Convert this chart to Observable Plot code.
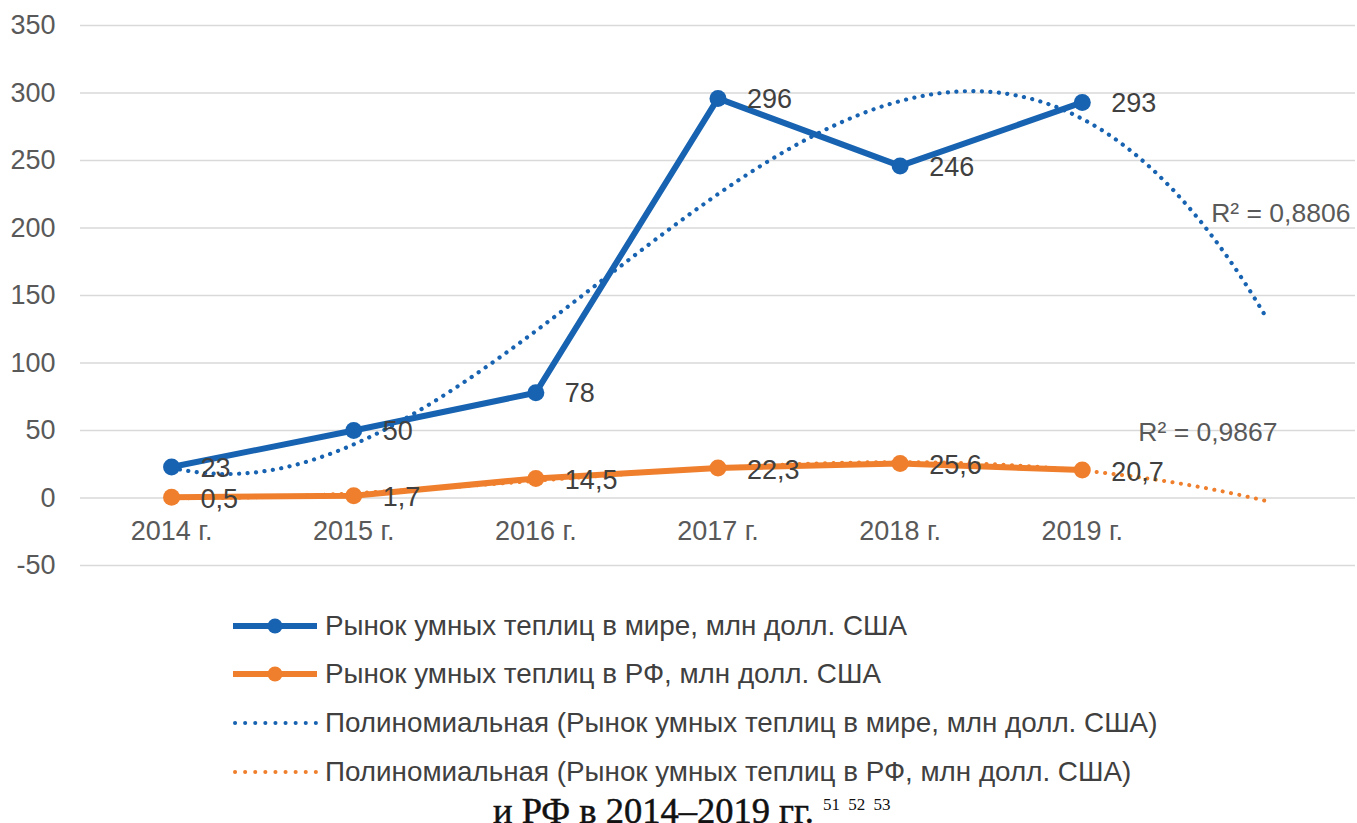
<!DOCTYPE html>
<html>
<head>
<meta charset="utf-8">
<script src="https://cdn.jsdelivr.net/npm/d3@7"></script>
<script src="https://cdn.jsdelivr.net/npm/@observablehq/plot@0.6"></script>
<style>
  html, body { margin: 0; padding: 0; background: #fff; overflow: hidden; }
  #wrap { position: relative; width: 1357px; height: 823px; overflow: hidden; font-family: "Liberation Sans", Arial, sans-serif; }
  #chart { position: absolute; left: 0; top: 0; }
  .leg { position: absolute; left: 232px; height: 34px; display: flex; align-items: center; font-size: 27.8px; color: #404040; white-space: nowrap; }
  .leg svg { margin-right: 7px; flex: none; }
  #caption { position: absolute; left: 493px; top: 793px; line-height: 1; font-family: "Liberation Serif", "DejaVu Serif", serif; font-size: 36.5px; color: #111; white-space: nowrap; -webkit-text-stroke: 0.5px #111; }
  #caption sup { font-size: 17px; vertical-align: 13px; margin-left: 9px; word-spacing: 4px; -webkit-text-stroke: 0; }
</style>
</head>
<body>
<div id="wrap">
  <div id="chart"></div>
  <div id="legend"></div>
  <div id="caption"></div>
</div>
<script>
const years = ["2014 г.", "2015 г.", "2016 г.", "2017 г.", "2018 г.", "2019 г."];
const world = [23, 50, 78, 296, 246, 293];
const russia = [0.5, 1.7, 14.5, 22.3, 25.6, 20.7];
const worldLabels = ["23", "50", "78", "296", "246", "293"];
const russiaLabels = ["0,5", "1,7", "14,5", "22,3", "25,6", "20,7"];
const yTicks = [-50, 0, 50, 100, 150, 200, 250, 300, 350];
const r2Labels = ["R² = 0,8806", "R² = 0,9867"];
const legendLabels = [
  "Рынок умных теплиц в мире, млн долл. США",
  "Рынок умных теплиц в РФ, млн долл. США",
  "Полиномиальная (Рынок умных теплиц в мире, млн долл. США)",
  "Полиномиальная (Рынок умных теплиц в РФ, млн долл. США)"
];
const captionText = "и РФ в 2014–2019 гг.";
const captionSup = "51 52 53";

const BLUE = "#1763b1";
const ORANGE = "#ef7f2c";

// cubic least-squares fit (Excel polynomial trendline, order 3), forecast 1 period forward
function cubicFit(ys) {
  const n = 4;
  const A = Array.from({length: n}, () => new Array(n + 1).fill(0));
  ys.forEach((y, i) => {
    const x = i + 1;
    for (let r = 0; r < n; r++) {
      for (let c = 0; c < n; c++) A[r][c] += Math.pow(x, r + c);
      A[r][n] += y * Math.pow(x, r);
    }
  });
  for (let i = 0; i < n; i++) {
    let p = i;
    for (let k = i + 1; k < n; k++) if (Math.abs(A[k][i]) > Math.abs(A[p][i])) p = k;
    [A[i], A[p]] = [A[p], A[i]];
    for (let k = 0; k < n; k++) {
      if (k === i) continue;
      const f = A[k][i] / A[i][i];
      for (let c = i; c <= n; c++) A[k][c] -= f * A[i][c];
    }
  }
  const coef = A.map((row, i) => row[n] / row[i]);
  return x => coef[0] + coef[1] * x + coef[2] * x * x + coef[3] * x * x * x;
}
const fw = cubicFit(world), fr = cubicFit(russia);
const trendX = d3.range(1, 7.0001, 0.05);
const worldTrend = trendX.map(x => ({x, y: fw(x)}));
const russiaTrend = trendX.map(x => ({x, y: fr(x)}));

const worldData = years.map((c, i) => ({x: i + 1, y: world[i], label: worldLabels[i]}));
const russiaData = years.map((c, i) => ({x: i + 1, y: russia[i], label: russiaLabels[i]}));
const catData = years.map((c, i) => ({x: i + 1, label: c}));

const chart = Plot.plot({
  width: 1357,
  height: 580,
  marginLeft: 80,
  marginRight: 2,
  marginTop: 25,
  marginBottom: 15,
  style: {fontFamily: "'Liberation Sans', Arial, sans-serif", background: "transparent"},
  x: {domain: [0.5, 7.5], axis: null},
  y: {domain: [-50, 350], ticks: yTicks, label: null},
  marks: [
    Plot.gridY(yTicks, {stroke: "#d9d9d9", strokeOpacity: 1, strokeWidth: 1.5}),
    Plot.axisY(yTicks, {tickSize: 0, tickPadding: 25, fontSize: 27, fill: "#595959", label: null, tickFormat: d => String(d)}),
    Plot.text(catData, {x: "x", y: () => 0, text: "label", dy: 33, fontSize: 27, fill: "#595959"}),
    Plot.line(worldTrend, {x: "x", y: "y", stroke: BLUE, strokeWidth: 4.2, strokeDasharray: "0.1 8.4", strokeLinecap: "round"}),
    Plot.line(russiaTrend, {x: "x", y: "y", stroke: ORANGE, strokeWidth: 4, strokeDasharray: "0.1 8.4", strokeLinecap: "round"}),
    Plot.line(russiaData, {x: "x", y: "y", stroke: ORANGE, strokeWidth: 6, strokeLinejoin: "round"}),
    Plot.dot(russiaData, {x: "x", y: "y", r: 8.5, fill: ORANGE, stroke: "none"}),
    Plot.line(worldData, {x: "x", y: "y", stroke: BLUE, strokeWidth: 6, strokeLinejoin: "round"}),
    Plot.dot(worldData, {x: "x", y: "y", r: 8.5, fill: BLUE, stroke: "none"}),
    Plot.text(worldData, {x: "x", y: "y", text: "label", dx: 29, dy: 1, textAnchor: "start", fontSize: 27, fill: "#404040"}),
    Plot.text(russiaData, {x: "x", y: "y", text: "label", dx: 29, dy: 2, textAnchor: "start", fontSize: 27, fill: "#404040"}),
    Plot.text([r2Labels[0]], {x: () => 7.09, y: () => 211, text: d => d, fontSize: 26.5, fill: "#595959"}),
    Plot.text([r2Labels[1]], {x: () => 6.69, y: () => 48.5, text: d => d, fontSize: 26.5, fill: "#595959"})
  ]
});
document.getElementById("chart").appendChild(chart);

// legend below the chart
const legend = document.getElementById("legend");
const legRows = [
  {label: legendLabels[0], color: BLUE, dotted: false, top: 609},
  {label: legendLabels[1], color: ORANGE, dotted: false, top: 657},
  {label: legendLabels[2], color: BLUE, dotted: true, top: 706},
  {label: legendLabels[3], color: ORANGE, dotted: true, top: 755}
];
legRows.forEach(r => {
  const row = document.createElement("div");
  row.className = "leg";
  row.style.top = r.top + "px";
  const s = d3.create("svg").attr("width", 86).attr("height", 34);
  if (r.dotted) {
    s.append("line").attr("x1", 3).attr("x2", 84).attr("y1", 17).attr("y2", 17)
      .attr("stroke", r.color).attr("stroke-width", 4).attr("stroke-dasharray", "0.1 10").attr("stroke-linecap", "round");
  } else {
    s.append("line").attr("x1", 1).attr("x2", 85).attr("y1", 17).attr("y2", 17)
      .attr("stroke", r.color).attr("stroke-width", 6);
    s.append("circle").attr("cx", 43).attr("cy", 17).attr("r", 7.5).attr("fill", r.color);
  }
  row.appendChild(s.node());
  const t = document.createElement("span");
  t.textContent = r.label;
  row.appendChild(t);
  legend.appendChild(row);
});

const cap = document.getElementById("caption");
cap.textContent = captionText;
const sup = document.createElement("sup");
sup.textContent = captionSup;
cap.appendChild(sup);
</script>
</body>
</html>
